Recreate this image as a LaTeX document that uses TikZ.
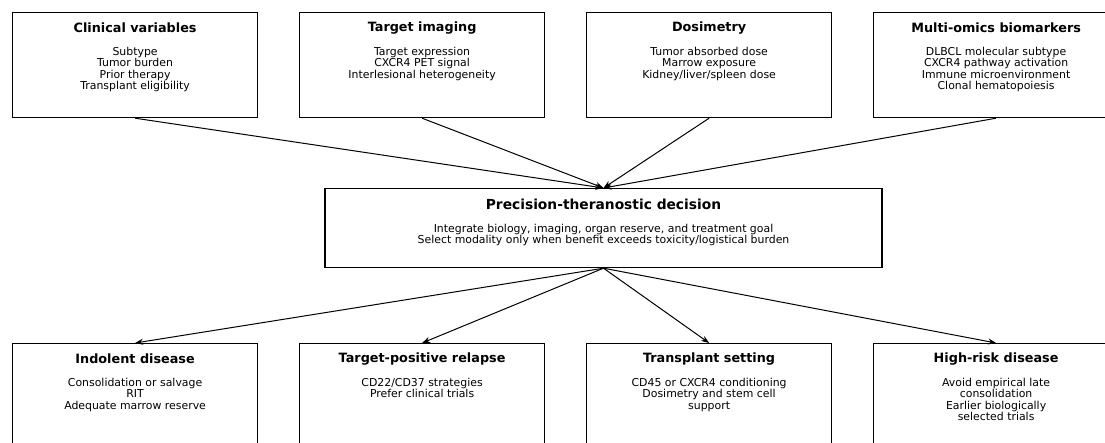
\documentclass[tikz,border=0pt]{standalone}
\usepackage{fontspec}
\setmainfont{DejaVu Sans}
\usetikzlibrary{arrows.meta,positioning}

\begin{document}
\begin{tikzpicture}[
  x=1pt, y=1pt,
  node distance=40.8pt,
  box/.style={draw, line width=1.2pt, minimum width=245pt, minimum height=105pt,
              inner sep=0pt},
  head/.style={font=\bfseries\fontsize{12.8}{14}\selectfont, inner sep=0pt},
  body/.style={font=\fontsize{10.9}{11.3}\selectfont, align=center, inner sep=0pt,
               anchor=north},
  arrow/.style={-{Stealth[length=8pt,width=6pt]}, line width=1pt}
]
\useasboundingbox (0,0) rectangle (1105,-443);
\clip (0,0) rectangle (1105,-443);
% inputs
\node[box, anchor=north west] (clin) at (12,-12) {};
\node[box, right=of clin] (img) {};
\node[box, right=of img] (dose) {};
\node[box, right=of dose] (omics) {};
% decision
\node[box, minimum width=557pt, minimum height=79pt, anchor=north] (dec) at (603.5,-188) {};
% scenarios
\node[box, anchor=north west] (indol) at (12,-343) {};
\node[box, right=of indol] (relap) {};
\node[box, right=of relap] (trans) {};
\node[box, right=of trans] (hrisk) {};

\node[head] (clinh) at ([yshift=-16pt]clin.north) {Clinical variables};
\node[body] (clinb) at ([yshift=-35pt]clin.north) {Subtype\\Tumor burden\\Prior therapy\\Transplant eligibility};
\node[head] (imgh) at ([yshift=-16pt]img.north) {Target imaging};
\node[body] (imgb) at ([yshift=-35pt]img.north) {Target expression\\CXCR4 PET signal\\Interlesional heterogeneity};
\node[head] (doseh) at ([yshift=-16pt]dose.north) {Dosimetry};
\node[body] (doseb) at ([yshift=-35pt]dose.north) {Tumor absorbed dose\\Marrow exposure\\Kidney/liver/spleen dose};
\node[head] (omicsh) at ([yshift=-16pt]omics.north) {Multi-omics biomarkers};
\node[body] (omicsb) at ([yshift=-35pt]omics.north) {DLBCL molecular subtype\\CXCR4 pathway activation\\Immune microenvironment\\Clonal hematopoiesis};

\node[head, font=\bfseries\fontsize{13.8}{15}\selectfont] (dech) at ([yshift=-16pt]dec.north) {Precision-theranostic decision};
\node[body] (decb) at ([yshift=-36pt]dec.north) {Integrate biology, imaging, organ reserve, and treatment goal\\Select modality only when benefit exceeds toxicity/logistical burden};

\node[head] (indolh) at ([yshift=-16pt]indol.north) {Indolent disease};
\node[body] (indolb) at ([yshift=-35pt]indol.north) {Consolidation or salvage\\RIT\\Adequate marrow reserve};
\node[head] (relaph) at ([yshift=-16pt]relap.north) {Target-positive relapse};
\node[body] (relapb) at ([yshift=-35pt]relap.north) {CD22/CD37 strategies\\Prefer clinical trials};
\node[head] (transh) at ([yshift=-16pt]trans.north) {Transplant setting};
\node[body] (transb) at ([yshift=-35pt]trans.north) {CD45 or CXCR4 conditioning\\Dosimetry and stem cell\\support};
\node[head] (hriskh) at ([yshift=-16pt]hrisk.north) {High-risk disease};
\node[body] (hriskb) at ([yshift=-35pt]hrisk.north) {Avoid empirical late\\consolidation\\Earlier biologically\\selected trials};

\foreach \src in {clin,img,dose,omics}
  \draw[arrow] (\src.south) -- (dec.north);
\foreach \dst in {indol,relap,trans,hrisk}
  \draw[arrow] (dec.south) -- (\dst.north);
\end{tikzpicture}
\end{document}
